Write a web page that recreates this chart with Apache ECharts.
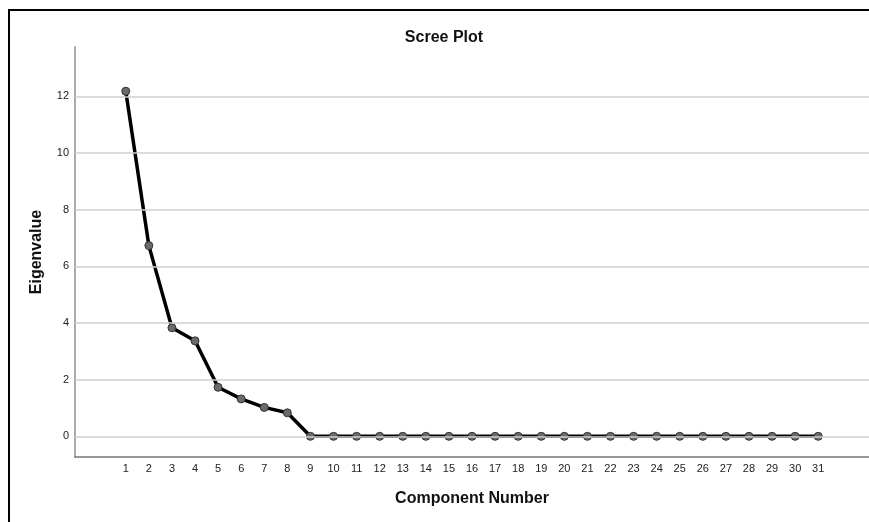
<!DOCTYPE html>
<html>
<head>
<meta charset="utf-8">
<script src="https://cdn.jsdelivr.net/npm/echarts@6/dist/echarts.min.js"></script>
<style>
html,body{margin:0;padding:0;background:#fff;}
#c{width:869px;height:522px;}
</style>
</head>
<body>
<div id="c"></div>
<script>
const components = [1,2,3,4,5,6,7,8,9,10,11,12,13,14,15,16,17,18,19,20,21,22,23,24,25,26,27,28,29,30,31];
const eigenvalues = [12.18,6.73,3.83,3.37,1.73,1.32,1.02,0.83,0,0,0,0,0,0,0,0,0,0,0,0,0,0,0,0,0,0,0,0,0,0,0];
const yTicks = [0,2,4,6,8,10,12];
const titleText = 'Scree Plot';
const xName = 'Component Number';
const yName = 'Eigenvalue';

const FONT = 'Liberation Sans, Arial, sans-serif';
const chart = echarts.init(document.getElementById('c'));
const points = components.map((c, i) => [c, eigenvalues[i]]);

chart.setOption({
  animation: false,
  backgroundColor: '#fff',
  title: {
    text: titleText,
    left: 439,
    top: 25,
    textAlign: 'center',
    textStyle: { fontFamily: FONT, fontSize: 16, fontWeight: 'bold', color: '#111' }
  },
  graphic: [{
    type: 'rect',
    shape: { x: 9, y: 10, width: 950, height: 600 },
    style: { fill: 'none', stroke: '#000', lineWidth: 2 },
    silent: true
  }],
  grid: { left: 75, right: 0, top: 47, bottom: 65 },
  xAxis: {
    type: 'value',
    min: -1.2,
    max: 33.2,
    name: xName,
    nameLocation: 'middle',
    nameGap: 34,
    nameTextStyle: { fontFamily: FONT, fontSize: 16, fontWeight: 'bold', color: '#111' },
    axisLine: { onZero: false, lineStyle: { color: '#777', width: 1.5 } },
    axisTick: { show: false },
    splitLine: { show: false },
    axisLabel: { customValues: components, fontFamily: FONT, fontSize: 11, color: '#222', margin: 6 }
  },
  yAxis: {
    type: 'value',
    min: -0.73,
    max: 13.74,
    name: yName,
    nameLocation: 'middle',
    nameRotate: 90,
    nameGap: 30,
    nameTextStyle: { fontFamily: FONT, fontSize: 16, fontWeight: 'bold', color: '#111' },
    axisLine: { show: true, onZero: false, lineStyle: { color: '#aaa', width: 2 } },
    axisTick: { show: false },
    splitLine: { show: false },
    axisLabel: { customValues: yTicks, fontFamily: FONT, fontSize: 11, color: '#222', margin: 6 }
  },
  series: [
    {
      type: 'line',
      data: [],
      z: 1,
      silent: true,
      markLine: {
        silent: true,
        symbol: ['none', 'none'],
        label: { show: false },
        lineStyle: { color: '#cfcfcf', width: 1.5, type: 'solid' },
        emphasis: { disabled: true },
        data: yTicks.map(v => ({ yAxis: v }))
      }
    },
    {
      type: 'line',
      data: points,
      z: 3,
      symbol: 'circle',
      symbolSize: 8,
      lineStyle: { color: '#000', width: 3.5 },
      itemStyle: { color: '#6a6a6a', borderColor: '#333', borderWidth: 1 }
    }
  ]
});
</script>
</body>
</html>
